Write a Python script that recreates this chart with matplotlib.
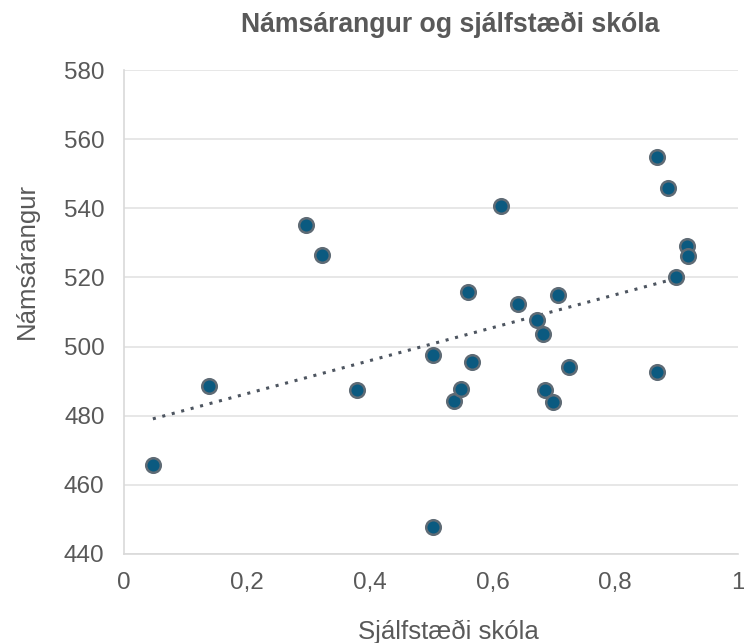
import numpy as np
import matplotlib.pyplot as plt
from matplotlib.ticker import FuncFormatter

plt.rcParams["font.family"] = ["Liberation Sans", "DejaVu Sans"]

# Sjálfstæði skóla (x) og Námsárangur (y)
sjalfstaedi = [0.047, 0.138, 0.296, 0.322, 0.379, 0.503, 0.503, 0.537, 0.549,
               0.560, 0.567, 0.614, 0.642, 0.673, 0.682, 0.686, 0.699, 0.707,
               0.725, 0.868, 0.868, 0.886, 0.899, 0.917, 0.919]
namsarangur = [465.7, 488.5, 535.3, 526.6, 487.3, 497.7, 447.8, 484.2, 487.6,
               515.9, 495.4, 540.7, 512.2, 507.8, 503.5, 487.3, 483.9, 515.0,
               494.0, 554.9, 492.5, 545.9, 520.0, 529.2, 526.3]
x_ticks = [0, 0.2, 0.4, 0.6, 0.8, 1]
y_ticks = [440, 460, 480, 500, 520, 540, 560, 580]

text_color = "#595959"
grid_color = "#e3e3e3"

fig = plt.figure(figsize=(7.44, 6.43), dpi=100)
ax = fig.add_axes([124 / 744, 1 - 554 / 643, 614 / 744, 484 / 643])

# trendline (linear fit)
x = np.array(sjalfstaedi)
y = np.array(namsarangur)
k, m = np.polyfit(x, y, 1)
xs = np.array([x.min(), x.max()])
ax.plot(xs, k * xs + m, linestyle=(0, (1, 2.2)), color="#4d5560",
        linewidth=2.2, zorder=2)

ax.scatter(x, y, s=110, color="#0b5a80", edgecolors="#5f6b75",
           linewidths=1.8, zorder=3)

ax.set_xlim(0, 1)
ax.set_ylim(440, 580)
ax.set_xticks(x_ticks)
ax.set_yticks(y_ticks)
ax.xaxis.set_major_formatter(FuncFormatter(
    lambda v, p: "0" if v == 0 else ("1" if v == 1 else f"{v:.1f}".replace(".", ","))))
ax.yaxis.grid(True, color=grid_color, linewidth=1.2)
ax.set_axisbelow(True)
for side in ["top", "right"]:
    ax.spines[side].set_visible(False)
for side in ["left", "bottom"]:
    ax.spines[side].set_color("#d9d9d9")
    ax.spines[side].set_linewidth(1.2)
ax.tick_params(length=0, labelsize=17.5, colors=text_color)
ax.tick_params(axis="y", pad=14)
ax.tick_params(axis="x", pad=13)

fig.text(450 / 744, 1 - 32 / 643, "Námsárangur og sjálfstæði skóla",
         ha="center", va="baseline", fontsize=19.2, fontweight="bold",
         color=text_color)
fig.text(448 / 744, 1 - 639 / 643, "Sjálfstæði skóla", ha="center",
         va="baseline", fontsize=18.5, color=text_color)
fig.text(27 / 744, 1 - 261 / 643, "Námsárangur", ha="center", va="center",
         rotation=90, fontsize=18.5, color=text_color)

fig.savefig("out.png", dpi=100)
